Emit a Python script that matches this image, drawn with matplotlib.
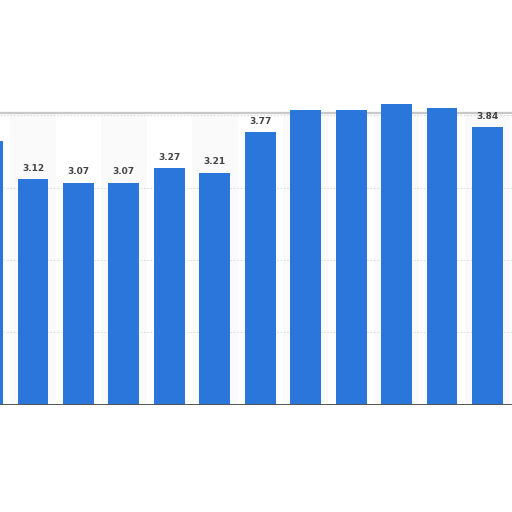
import numpy as np
import matplotlib.pyplot as plt

# values (index 0 is the clipped bar at the left edge)
values = [3.65, 3.12, 3.07, 3.07, 3.27, 3.21, 3.77, 4.07, 4.07, 4.16, 4.10, 3.84]
shown_labels = ["", "3.12", "3.07", "3.07", "3.27", "3.21", "3.77", "", "", "", "", "3.84"]
grid_values = [1, 2, 3, 4]
frame_top = 4.03

fig = plt.figure(figsize=(5.12, 5.12), dpi=100)
ax = fig.add_axes([0, 0.2098, 1, 0.607])

x = np.arange(len(values))

# alternating light column bands behind the bars
bands = [i for i in x if i % 2 == 1]
ax.bar(bands, [frame_top] * len(bands), width=1.0, color='#fafafa', zorder=0)

for g in grid_values:
    ax.axhline(g, color='#dddddd', linestyle=(0, (1.5, 1.5)), linewidth=0.8, zorder=1)

ax.axhline(frame_top, color='#c8c8c8', linewidth=1.6, zorder=1)

ax.bar(x, values, width=0.68, color='#2a76da', zorder=2)

for xi, v, lab in zip(x, values, shown_labels):
    if lab:
        ax.text(xi, v + 0.09, lab, ha='center', va='bottom', fontsize=6.5,
                fontweight='bold', color='#444444', zorder=3)

ax.axhline(0, color='#555555', linewidth=1.4, zorder=3)

ax.set_xlim(0.274, 11.54)
ax.set_ylim(0, 4.3)
ax.axis('off')

fig.savefig('out.png', dpi=100, facecolor='white')
